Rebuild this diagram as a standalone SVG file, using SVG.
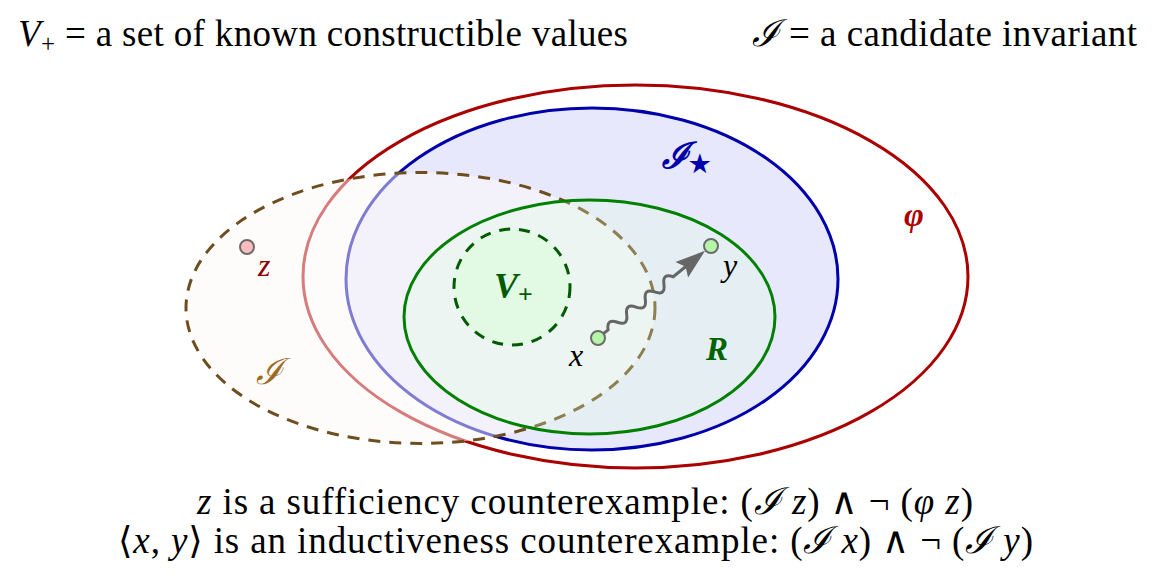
<svg xmlns="http://www.w3.org/2000/svg" width="1160" height="581" viewBox="0 0 1160 581">
<defs>
<style>
text{font-family:"Liberation Serif","DejaVu Serif",serif;fill:#000}
.it{font-style:italic}
.bi{font-style:italic;font-weight:bold}
.pt{stroke:#6b6b6b;stroke-width:2}
</style>
</defs>
<rect width="1160" height="581" fill="#fff"/>
<g id="phi">
<ellipse cx="635.5" cy="276.5" rx="332.5" ry="191.5" fill="none" stroke="#aa0000" stroke-width="3"/>
</g>
<g id="istar">
<ellipse cx="592" cy="279" rx="246" ry="171" fill="#e8e8fc" stroke="#0000aa" stroke-width="3"/>
</g>
<g id="inv">
<ellipse cx="420.5" cy="308" rx="234.5" ry="135.5" fill="#fdfaf7" fill-opacity="0.5"/>
<ellipse cx="420.5" cy="308" rx="234.5" ry="135.5" fill="none" stroke="#6e4e1e" stroke-width="3" stroke-dasharray="12 9"/>
</g>
<g id="R">
<ellipse cx="589.5" cy="317" rx="185.5" ry="117" fill="#dcffdc" fill-opacity="0.28" stroke="#008000" stroke-width="3"/>
</g>
<g id="vplus">
<circle cx="512" cy="287" r="58" fill="#d8ffd8" fill-opacity="0.5" stroke="#005a00" stroke-width="3" stroke-dasharray="11 9"/>
<text x="494" y="298" class="bi" font-size="36" style="fill:#005a00">V<tspan font-size="26" dy="5" font-style="normal">+</tspan></text>
</g>
<g id="connectors">
<g transform="translate(598,338) rotate(-39.15)">
<path d="M7,0 L13,0 q6,-10 12,0 q6,10 12,0 q6,-10 12,0 q6,10 12,0 q6,-10 12,0 q6,10 12,0 q6,-10 12,0 L114,0" fill="none" stroke="#666" stroke-width="3" stroke-linecap="round"/>
<polygon points="108,-10 138,0 108,10 113,0" fill="#666"/>
</g>
</g>
<g id="z">
<circle cx="247" cy="247" r="7" fill="#ffbcbc" class="pt"/>
<text x="258" y="276" class="it" font-size="32" style="fill:#8b0000">z</text>
</g>
<g id="x">
<circle cx="598" cy="338" r="7" fill="#b4f5a8" class="pt"/>
<text x="569" y="366" class="it" font-size="32">x</text>
</g>
<g id="y">
<circle cx="711" cy="246" r="7" fill="#b4f5a8" class="pt"/>
<text x="723" y="276" class="it" font-size="32">y</text>
</g>
<text x="706" y="360" class="bi" font-size="33" style="fill:#006400">R</text>
<text x="662" y="168" class="it" font-size="36" font-weight="bold" style="fill:#0000aa">ℐ<tspan font-size="24" dy="4" font-style="normal">★</tspan></text>
<text x="904" y="226" class="bi" font-size="34" style="fill:#aa0000">φ</text>
<text x="256" y="384" class="it" font-size="36" style="fill:#9c6b23">ℐ</text>
<text x="18" y="46" font-size="37" textLength="610"><tspan class="it">V</tspan><tspan font-size="25" dy="6">+</tspan><tspan dy="-6"> = a set of known constructible values</tspan></text>
<text x="752" y="46" font-size="37" textLength="385"><tspan class="it">ℐ</tspan>  = a candidate invariant</text>
<text x="197" y="514" font-size="37" textLength="776"><tspan class="it">z</tspan> is a sufficiency counterexample: (<tspan class="it">ℐ</tspan>  <tspan class="it">z</tspan>) ∧ ¬ (<tspan class="it">φ</tspan>  <tspan class="it">z</tspan>)</text>
<text x="118" y="553" font-size="37" textLength="915">⟨<tspan class="it">x</tspan>, <tspan class="it">y</tspan>⟩ is an inductiveness counterexample: (<tspan class="it">ℐ</tspan>  <tspan class="it">x</tspan>) ∧ ¬ (<tspan class="it">ℐ</tspan>  <tspan class="it">y</tspan>)</text>
</svg>
